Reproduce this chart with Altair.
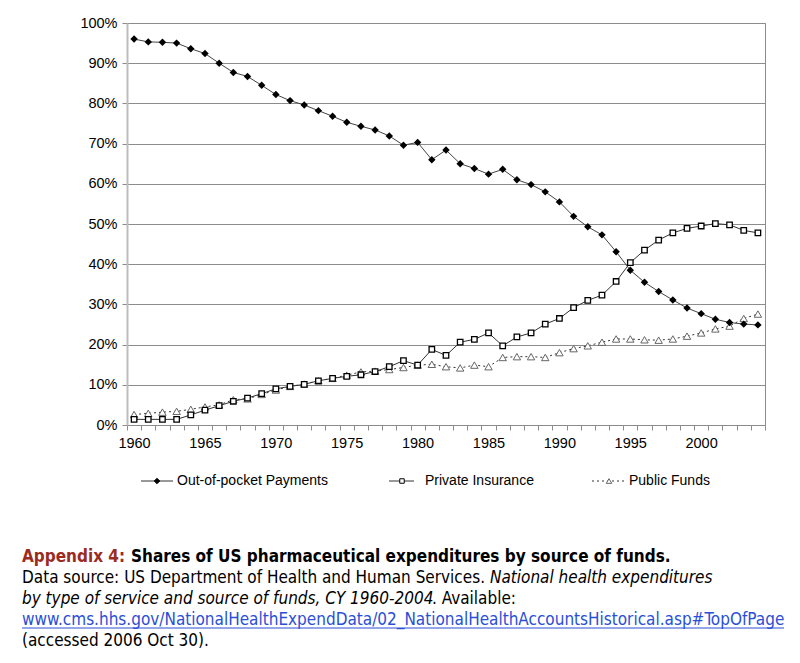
import altair as alt
import pandas as pd

years = list(range(1960, 2005))
out_of_pocket = [96.0, 95.3, 95.2, 95.0, 93.6, 92.4, 90.0, 87.7, 86.7, 84.5,
                 82.2, 80.7, 79.6, 78.2, 76.8, 75.3, 74.3, 73.4, 71.9, 69.6,
                 70.3, 66.0, 68.4, 65.0, 63.8, 62.4, 63.6, 61.0, 59.8, 58.0,
                 55.5, 51.9, 49.3, 47.3, 43.1, 38.5, 35.5, 33.2, 31.1, 29.1,
                 27.7, 26.3, 25.5, 25.1, 24.9]
private_ins = [1.4, 1.4, 1.4, 1.4, 2.5, 3.7, 4.8, 5.9, 6.7, 7.8,
               9.0, 9.6, 10.1, 11.0, 11.6, 12.1, 12.5, 13.3, 14.5, 16.0,
               14.9, 18.8, 17.3, 20.6, 21.3, 22.9, 19.7, 21.9, 22.9, 25.1,
               26.5, 29.2, 31.0, 32.3, 35.7, 40.4, 43.5, 46.0, 47.8, 48.9,
               49.5, 50.1, 49.8, 48.4, 47.8]
public_funds = [2.6, 2.9, 3.2, 3.4, 3.9, 4.5, 5.0, 6.3, 6.5, 7.6,
                8.7, 9.6, 10.2, 11.0, 11.6, 12.4, 13.2, 13.4, 13.8, 14.3,
                14.9, 15.1, 14.5, 14.2, 14.9, 14.5, 16.8, 17.0, 17.0, 16.8,
                18.0, 19.0, 19.7, 20.6, 21.4, 21.4, 21.2, 21.1, 21.4, 22.1,
                22.9, 23.9, 24.6, 26.5, 27.6]
y_ticks = list(range(0, 101, 10))
series_names = ["Out-of-pocket Payments", "Private Insurance", "Public Funds"]

boundaries = [y - 0.5 for y in years] + [years[-1] + 0.5]
last_year = years[-1]

AX_FONT = "Liberation Sans, Arial, sans-serif"
CAP_FONT = "DejaVu Sans Condensed, DejaVu Sans, sans-serif"
CAP_SIZE = 17

x_enc = alt.X(
    "year:Q",
    scale=alt.Scale(domain=[years[0] - 0.5, years[-1] + 0.5], nice=False, zero=False),
    axis=alt.Axis(
        values=boundaries,
        labelExpr=f"((datum.value + 0.5) % 5 == 0 && datum.value < {last_year}) ? toString(datum.value + 0.5) : ''",
        labelOffset=7,
        labelFlush=False,
        labelOverlap=False,
        labelBound=False,
        labelFont=AX_FONT,
        labelFontSize=14.5,
        labelColor="black",
        labelPadding=6,
        tickSize=5,
        tickColor="#8c8c8c",
        domainColor="#8c8c8c",
        grid=False,
        title=None,
    ),
)
y_enc = alt.Y(
    "value:Q",
    scale=alt.Scale(domain=[0, 100], nice=False),
    axis=alt.Axis(
        values=y_ticks,
        labelExpr="datum.value + '%'",
        labelFont=AX_FONT,
        labelFontSize=14.5,
        labelColor="black",
        labelPadding=5,
        tickSize=5,
        tickColor="#8c8c8c",
        domainColor="#bdbdbd",
        domainWidth=2,
        grid=True,
        gridColor="#8c8c8c",
        gridWidth=1,
        title=None,
    ),
)

df_oop = pd.DataFrame({"year": years, "value": out_of_pocket})
df_priv = pd.DataFrame({"year": years, "value": private_ins})
df_pub = pd.DataFrame({"year": years, "value": public_funds})

pub_line = alt.Chart(df_pub).mark_line(color="#333333", strokeWidth=1, strokeDash=[2, 3]).encode(x=x_enc, y=y_enc)
pub_pts = alt.Chart(df_pub).mark_point(shape="triangle-up", filled=True, fill="white", stroke="#666666",
                                      strokeWidth=1, size=55, opacity=1).encode(x=x_enc, y=y_enc)
priv_line = alt.Chart(df_priv).mark_line(color="#333333", strokeWidth=1).encode(x=x_enc, y=y_enc)
priv_pts = alt.Chart(df_priv).mark_point(shape="square", filled=True, fill="white", stroke="black",
                                        strokeWidth=1.3, size=30, opacity=1).encode(x=x_enc, y=y_enc)
oop_line = alt.Chart(df_oop).mark_line(color="#444444", strokeWidth=1).encode(x=x_enc, y=y_enc)
oop_pts = alt.Chart(df_oop).mark_point(shape="diamond", filled=True, color="black",
                                      size=55, opacity=1).encode(x=x_enc, y=y_enc)

# ----- custom legend (pixel positions relative to plot area) -----
LEG_Y = 458
legend_layers = []
leg_specs = [
    (14, 46, 30, 50, None, "diamond", "black", "black", 30),
    (262, 287, 275, 298, None, "square", "white", "black", 20),
    (465, 500, 482, 502, [2, 3], "triangle-up", "white", "#666666", 30),
]
for name, (x1, x2, xm, xt, dash, shape, fill, stroke, size) in zip(series_names, leg_specs):
    rule_kwargs = dict(color="#333333", strokeWidth=1)
    if dash:
        rule_kwargs["strokeDash"] = dash
    legend_layers.append(
        alt.Chart(pd.DataFrame({"n": [name]})).mark_rule(**rule_kwargs).encode(
            x=alt.value(x1), x2=alt.value(x2), y=alt.value(LEG_Y))
    )
    legend_layers.append(
        alt.Chart(pd.DataFrame({"n": [name]})).mark_point(
            shape=shape, filled=True, fill=fill, stroke=stroke, strokeWidth=1, size=size, opacity=1
        ).encode(x=alt.value(xm), y=alt.value(LEG_Y))
    )
    legend_layers.append(
        alt.Chart(pd.DataFrame({"n": [name]})).mark_text(
            align="left", baseline="middle", font=AX_FONT, fontSize=14, color="black"
        ).encode(text="n:N", x=alt.value(xt), y=alt.value(LEG_Y))
    )

# ----- caption -----
CAP_X = -105
cap_rows = [
    ("Appendix 4:", CAP_X, 534, "#9b2b1f", "bold", "normal"),
    ("Shares of US pharmaceutical expenditures by source of funds.", 4, 534, "black", "bold", "normal"),
    ("Data source: US Department of Health and Human Services.", CAP_X, 555, "black", "normal", "normal"),
    ("National health expenditures", 363, 555, "black", "normal", "italic"),
    ("by type of service and source of funds, CY 1960-2004", CAP_X, 576, "black", "normal", "italic"),
    (". Available:", 305, 576, "black", "normal", "normal"),
    ("www.cms.hhs.gov/NationalHealthExpendData/02_NationalHealthAccountsHistorical.asp#TopOfPage",
     CAP_X, 597, "#2a4fd6", "normal", "normal"),
    ("(accessed 2006 Oct 30).", CAP_X, 618, "black", "normal", "normal"),
]
cap_layers = []
for txt, x, y, col, wt, st in cap_rows:
    cap_layers.append(
        alt.Chart(pd.DataFrame({"t": [txt]})).mark_text(
            align="left", baseline="middle", font=CAP_FONT, fontSize=CAP_SIZE,
            color=col, fontWeight=wt, fontStyle=st
        ).encode(text="t:N", x=alt.value(x), y=alt.value(y))
    )
cap_layers.append(
    alt.Chart(pd.DataFrame({"t": ["u"]})).mark_rule(color="#2a4fd6", strokeWidth=1).encode(
        x=alt.value(CAP_X), x2=alt.value(657), y=alt.value(605))
)

chart = alt.layer(
    pub_line, pub_pts, priv_line, priv_pts, oop_line, oop_pts,
    *legend_layers, *cap_layers
).properties(
    width=638, height=402,
    autosize=alt.AutoSizeParams(type="none"),
    padding={"left": 119, "top": 15, "right": 20, "bottom": 225},
    background="white",
).configure_view(
    stroke="#8c8c8c", strokeWidth=1
)

chart.save("out.html", embed_options={"renderer": "svg", "actions": False})
